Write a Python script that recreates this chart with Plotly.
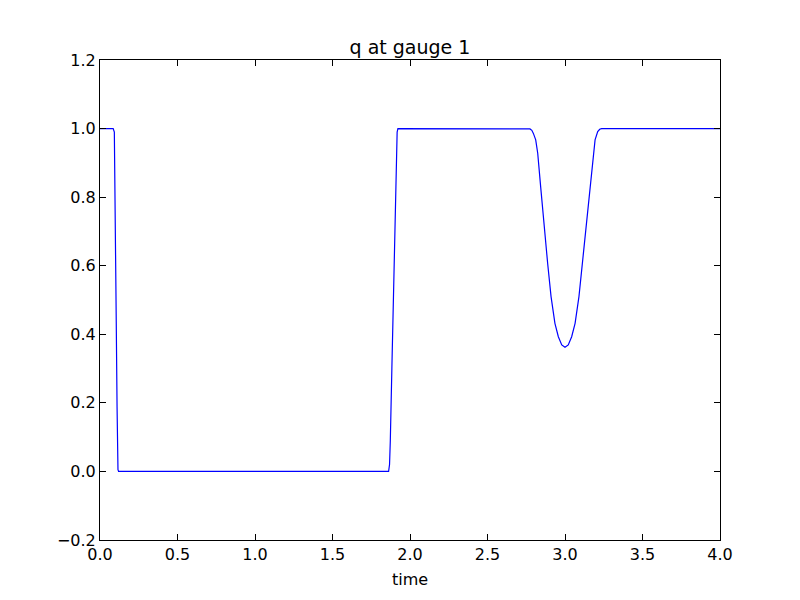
import plotly.graph_objects as go

time = [0.0, 0.05, 0.085, 0.0925, 0.095, 0.1, 0.105, 0.11, 0.113, 0.116, 0.12,
        0.5, 1.0, 1.5, 1.862, 1.868, 1.873, 1.883, 1.893, 1.903, 1.912, 1.917, 1.922, 1.93,
        2.0, 2.5, 2.76, 2.774, 2.786, 2.796, 2.811, 2.824, 2.843, 2.860, 2.873, 2.888,
        2.910, 2.935, 2.957, 2.979, 3.0, 3.021, 3.043, 3.065, 3.090, 3.112, 3.128,
        3.146, 3.163, 3.183, 3.194, 3.211, 3.224, 3.236, 3.25, 3.5, 4.0]
q = [1.0, 1.0, 1.0, 0.99, 0.9, 0.67, 0.43, 0.19, 0.05, 0.005, 0.0,
     0.0, 0.0, 0.0, 0.0, 0.02, 0.09, 0.3, 0.52, 0.75, 0.94, 0.99, 1.0, 1.0,
     1.0, 1.0, 1.0, 0.999, 0.995, 0.986, 0.967, 0.928, 0.830, 0.740, 0.685, 0.607,
     0.510, 0.432, 0.393, 0.369, 0.362, 0.369, 0.393, 0.432, 0.510, 0.607, 0.680,
     0.745, 0.830, 0.928, 0.967, 0.991, 0.998, 1.0, 1.0, 1.0, 1.0]

x_ticks = [0.0, 0.5, 1.0, 1.5, 2.0, 2.5, 3.0, 3.5, 4.0]
y_ticks = [-0.2, 0.0, 0.2, 0.4, 0.6, 0.8, 1.0, 1.2]

font = "DejaVu Sans, Liberation Sans, sans-serif"

fig = go.Figure()
fig.add_trace(go.Scatter(x=time, y=q, mode="lines",
                         line=dict(color="#0000ff", width=1.2), showlegend=False))

axis_common = dict(showgrid=False, zeroline=False, showline=True, linecolor="black",
                   linewidth=1, mirror="ticks", ticks="inside", ticklen=6,
                   tickcolor="black", tickfont=dict(family=font, size=16, color="black"))

fig.update_layout(
    width=800, height=600,
    margin=dict(l=92, r=88, t=52, b=68),
    paper_bgcolor="white", plot_bgcolor="white",
    title=dict(text="q at gauge 1", x=0.5, xref="paper", xanchor="center",
               y=1, yref="paper", yanchor="bottom", pad=dict(b=6),
               font=dict(family=font, size=19, color="black")),
    xaxis=dict(range=[0, 4], tickvals=x_ticks,
               ticktext=[f"{v:.1f}" for v in x_ticks],
               title=dict(text="time", font=dict(family=font, size=16, color="black"), standoff=10),
               **axis_common),
    yaxis=dict(range=[-0.2, 1.2], tickvals=y_ticks,
               ticktext=[("\u2212" + f"{abs(v):.1f}") if v < 0 else f"{v:.1f}" for v in y_ticks],
               **axis_common),
)

fig.write_html("out.html")
